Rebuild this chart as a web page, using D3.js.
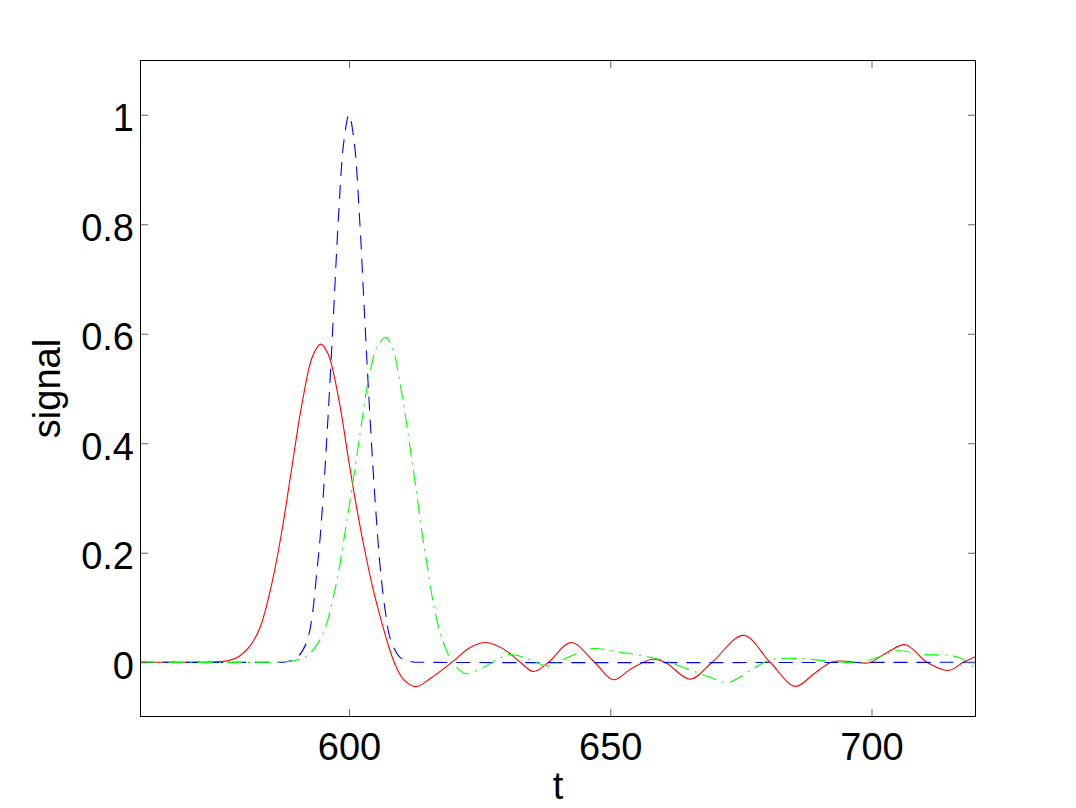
<!DOCTYPE html>
<html>
<head>
<meta charset="utf-8">
<script src="https://cdn.jsdelivr.net/npm/d3@7"></script>
<style>
  html, body { margin: 0; padding: 0; background: #fff; }
  svg { display: block; }
  text { font-family: "Liberation Sans", Arial, Helvetica, sans-serif; fill: #000; }
</style>
</head>
<body>
<svg id="chart" width="1076" height="808"></svg>
<script>
// ---- data ----
const xTicks = [600, 650, 700];
const yTicks = [0, 0.2, 0.4, 0.6, 0.8, 1];
const yTickLabels = ["0", "0.2", "0.4", "0.6", "0.8", "1"];

// red solid
const redT = [560, 570, 575, 577, 579, 581, 583, 585, 587, 589, 591, 593, 594.6, 596, 598, 600, 601.5, 603, 604.5, 606, 607.5, 609, 610.5, 612.8, 615.5, 619.7, 623.2, 626.2, 629.6, 632.8, 635.3, 638.2, 642.5, 647, 650.6, 654, 658, 660.5, 665.3, 669.5, 675.5, 680.6, 685.4, 689, 692.5, 696, 699.5, 703, 706.5, 710.6, 714.7, 717.6, 720];
const redV = [0, 0, 0.001, 0.003, 0.011, 0.029, 0.064, 0.134, 0.231, 0.352, 0.472, 0.558, 0.581, 0.563, 0.483, 0.365, 0.280, 0.205, 0.138, 0.082, 0.032, -0.008, -0.032, -0.0445, -0.030, 0, 0.027, 0.036, 0.024, 0, -0.017, 0, 0.036, 0, -0.032, -0.012, 0.0055, 0, -0.031, 0, 0.049, 0, -0.044, -0.021, 0.001, 0.001, -0.001, 0.018, 0.032, 0, -0.015, 0, 0.0105];

// blue dashed
const blueT = [560, 585, 588, 590, 592, 594, 595, 596, 597, 598, 599, 600, 601, 602, 603, 604, 605, 606, 607, 608, 610, 612, 615, 720];
const blueV = [0, 0, 0.001, 0.008, 0.040, 0.180, 0.295, 0.450, 0.630, 0.815, 0.950, 1.0, 0.950, 0.815, 0.630, 0.450, 0.295, 0.170, 0.090, 0.040, 0.007, 0.001, 0, 0];

// green dash-dot
const greenT = [560, 585, 588, 590, 592, 594, 595.6, 597, 598, 599.5, 601, 602.6, 604, 605.5, 607.1, 608.5, 610, 611, 612, 613, 614, 615, 616, 617, 618, 619, 620, 621, 622.5, 624.5, 626.4, 628.9, 630.5, 632.8, 635.3, 638, 641, 644.9, 647, 651, 655, 660, 665, 669, 672.5, 676.5, 680.5, 686, 692, 698, 702, 705, 710, 715.5, 718, 720];
const greenV = [0, 0, 0.001, 0.004, 0.012, 0.034, 0.067, 0.119, 0.165, 0.253, 0.345, 0.449, 0.530, 0.578, 0.593, 0.568, 0.497, 0.437, 0.372, 0.305, 0.235, 0.175, 0.115, 0.070, 0.038, 0.014, 0.0, -0.013, -0.021, -0.015, -0.006, 0.008, 0.014, 0.011, 0.002, -0.007, 0.005, 0.021, 0.025, 0.020, 0.014, 0.004, -0.013, -0.027, -0.037, -0.017, 0.004, 0.007, 0.002, 0.0, 0.012, 0.021, 0.014, 0.012, 0.003, -0.012];

// ---- layout ----
const svg = d3.select("#chart");
const L = 140, R = 976, T = 60, B = 717;
const x = d3.scaleLinear().domain([560, 720]).range([L, R]);
const y = d3.scaleLinear().domain([-0.1, 1.1]).range([B, T]);

svg.append("defs").append("clipPath").attr("id", "plotclip")
  .append("rect").attr("x", L).attr("y", T).attr("width", R - L).attr("height", B - T);

const g = svg.append("g").attr("clip-path", "url(#plotclip)");

function series(ts, vs) { return ts.map((t, i) => [t, vs[i]]); }
const line = d3.line().x(d => x(d[0])).y(d => y(d[1])).curve(d3.curveCatmullRom.alpha(0.5));

g.append("path").datum(series(redT, redV))
  .attr("d", line).attr("fill", "none").attr("stroke", "#ff0000").attr("stroke-width", 1.1);
g.append("path").datum(series(blueT, blueV))
  .attr("d", line).attr("fill", "none").attr("stroke", "#0000ff").attr("stroke-width", 1.1)
  .attr("stroke-dasharray", "14,9");
g.append("path").datum(series(greenT, greenV))
  .attr("d", line).attr("fill", "none").attr("stroke", "#00ff00").attr("stroke-width", 1.1)
  .attr("stroke-dasharray", "15,6,2,6");

// ---- axes (MATLAB style box with inward ticks on all sides) ----
const tickLen = 8;
const axes = svg.append("g");
const bottomAxis = d3.axisBottom(x).tickValues(xTicks).tickSize(-tickLen).tickPadding(0).tickFormat(d3.format("d"));
const topAxis = d3.axisTop(x).tickValues(xTicks).tickSize(-tickLen).tickFormat("");
const leftAxis = d3.axisLeft(y).tickValues(yTicks).tickSize(-tickLen).tickFormat((d, i) => yTickLabels[i]);
const rightAxis = d3.axisRight(y).tickValues(yTicks).tickSize(-tickLen).tickFormat("");

const gb = axes.append("g").attr("transform", `translate(0,${B})`).call(bottomAxis);
const gt = axes.append("g").attr("transform", `translate(0,${T})`).call(topAxis);
const gl = axes.append("g").attr("transform", `translate(${L},0)`).call(leftAxis);
const gr = axes.append("g").attr("transform", `translate(${R},0)`).call(rightAxis);

[gb, gt, gl, gr].forEach(a => {
  a.select(".domain").remove();
  a.selectAll(".tick line").attr("stroke", "#666").attr("stroke-width", 1);
});

gb.selectAll(".tick text")
  .attr("y", 43).attr("dy", 0)
  .style("font-size", "38px").style("font-family", "'Liberation Sans', Arial, sans-serif").attr("fill", "#000");
gl.selectAll(".tick text")
  .attr("x", -6).attr("dy", 0).attr("y", 16)
  .style("font-size", "38px").style("font-family", "'Liberation Sans', Arial, sans-serif").attr("fill", "#000");

// box
axes.append("rect").attr("x", L + 0.5).attr("y", T + 0.5)
  .attr("width", R - L - 1).attr("height", B - T - 1)
  .attr("fill", "none").attr("stroke", "#000").attr("stroke-width", 1);

// axis labels
svg.append("text").attr("x", (L + R) / 2).attr("y", 799)
  .attr("text-anchor", "middle").style("font-size", "38px").text("t");
svg.append("text")
  .attr("transform", `translate(60,${(T + B) / 2}) rotate(-90)`)
  .attr("text-anchor", "middle").style("font-size", "38px").text("signal");
</script>
</body>
</html>
